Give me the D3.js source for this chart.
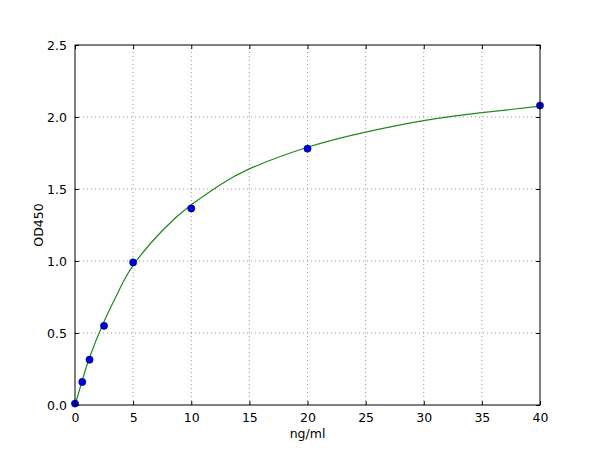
<!DOCTYPE html>
<html><head><meta charset="utf-8">
<script src="https://cdn.jsdelivr.net/npm/d3@7"></script>
<style>body{margin:0;background:#fff}svg{display:block}text{font-family:"DejaVu Sans",sans-serif;fill:#000}</style>
</head><body><div id="chart"></div>
<script>
const concentrations = [0, 0.625, 1.25, 2.5, 5, 10, 20, 40];
const odValues = [0.01, 0.16, 0.315, 0.55, 0.99, 1.365, 1.78, 2.08];
const fitX = [0, 0.625, 1.25, 2.5, 3.75, 5, 7.5, 10, 12.5, 15, 20, 25, 30, 35, 40];
const fitY = [0.0, 0.17, 0.33, 0.58, 0.79, 0.97, 1.21, 1.39, 1.53, 1.64, 1.79, 1.895, 1.975, 2.03, 2.075];
const xTicks = [0, 5, 10, 15, 20, 25, 30, 35, 40];
const yTicks = [0.0, 0.5, 1.0, 1.5, 2.0, 2.5];

const W = 600, H = 450;
const m = {left: 75, right: 60, top: 45, bottom: 45};
const svg = d3.select("#chart").append("svg").attr("width", W).attr("height", H);
const x = d3.scaleLinear().domain([0, 40]).range([m.left, W - m.right]);
const y = d3.scaleLinear().domain([0, 2.5]).range([H - m.bottom, m.top]);

// grid
const g = svg.append("g");
g.selectAll(".vg").data(xTicks.slice(1, -1)).join("line")
  .attr("x1", d => x(d)).attr("x2", d => x(d)).attr("y1", y(0)).attr("y2", y(2.5))
  .attr("stroke", "#000").attr("stroke-opacity", 0.5).attr("stroke-width", 0.8).attr("stroke-dasharray", "1,3");
g.selectAll(".hg").data(yTicks.slice(1, -1)).join("line")
  .attr("y1", d => y(d)).attr("y2", d => y(d)).attr("x1", x(0)).attr("x2", x(40))
  .attr("stroke", "#000").attr("stroke-opacity", 0.5).attr("stroke-width", 0.8).attr("stroke-dasharray", "1,3");

// axes (ticks inward)
const fmtY = d3.format(".1f");
const axBottom = svg.append("g").attr("transform", `translate(0,${y(0)})`)
  .call(d3.axisBottom(x).tickValues(xTicks).tickSize(-4).tickPadding(8).tickFormat(d3.format("d")));
const axTop = svg.append("g").attr("transform", `translate(0,${y(2.5)})`)
  .call(d3.axisTop(x).tickValues(xTicks).tickSize(-4).tickFormat(""));
const axLeft = svg.append("g").attr("transform", `translate(${x(0)},0)`)
  .call(d3.axisLeft(y).tickValues(yTicks).tickSize(-4).tickPadding(8).tickFormat(fmtY));
const axRight = svg.append("g").attr("transform", `translate(${x(40)},0)`)
  .call(d3.axisRight(y).tickValues(yTicks).tickSize(-4).tickFormat(""));
[axBottom, axTop, axLeft, axRight].forEach(a => {
  a.select(".domain").remove();
  a.selectAll("text").attr("font-size", 12.5).attr("font-family", "DejaVu Sans").attr("fill", "#000");
  a.selectAll("line").attr("stroke", "#000");
});

// fitted curve
const line = d3.line().x((d, i) => x(fitX[i])).y(d => y(d)).curve(d3.curveNatural);
svg.append("path").datum(fitY).attr("d", line)
  .attr("fill", "none").attr("stroke", "#1f8a1f").attr("stroke-width", 1.2);

// points
svg.append("g").selectAll("circle").data(concentrations).join("circle")
  .attr("cx", d => x(d)).attr("cy", (d, i) => y(odValues[i])).attr("r", 3.6)
  .attr("fill", "#0000d8").attr("stroke", "#00007a").attr("stroke-width", 0.6);

// frame
svg.append("rect").attr("x", x(0)).attr("y", y(2.5)).attr("width", x(40) - x(0)).attr("height", y(0) - y(2.5))
  .attr("fill", "none").attr("stroke", "#000").attr("stroke-width", 1);

// labels
svg.append("text").attr("x", (x(0) + x(40)) / 2).attr("y", 438).attr("text-anchor", "middle")
  .attr("font-size", 12.5).text("ng/ml");
svg.append("text").attr("transform", `translate(43,${(y(0) + y(2.5)) / 2}) rotate(-90)`).attr("text-anchor", "middle")
  .attr("font-size", 12.5).text("OD450");
</script></body></html>
